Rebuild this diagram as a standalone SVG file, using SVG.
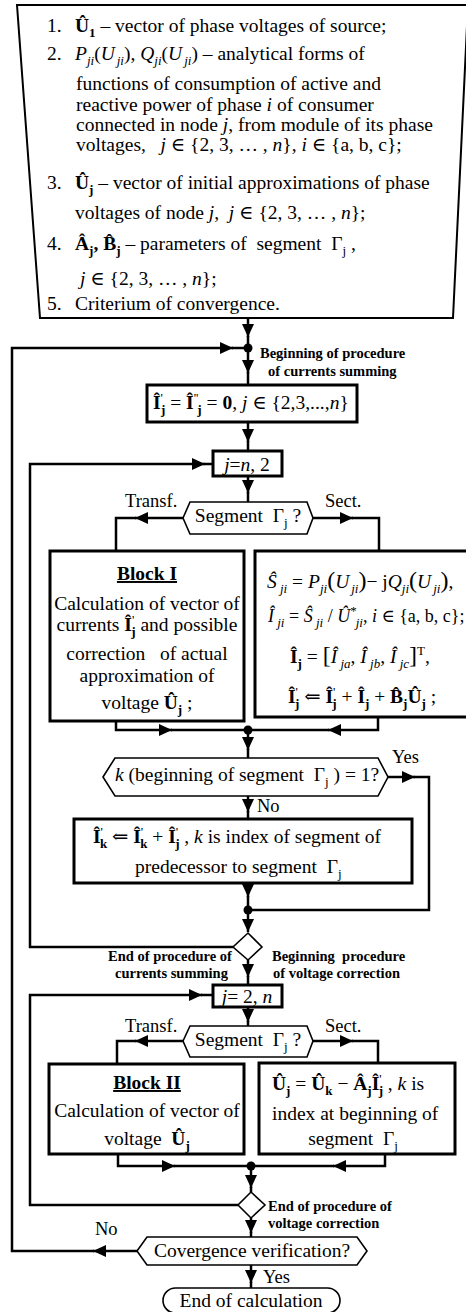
<svg xmlns="http://www.w3.org/2000/svg" width="466" height="1312" viewBox="0 0 466 1312">
<style>
text{font-family:"Liberation Serif","Times New Roman","DejaVu Serif",serif;font-size:19.5px;fill:#000}
.i{font-style:italic}
.b{font-weight:bold}
.sb{font-size:13px}
.sp{font-size:13px}
.lb{font-size:14.5px;font-weight:bold}
.lab{font-size:18.5px}
.m{text-anchor:middle}
.big{font-size:24px}
.sm{font-size:18px}
.ln{fill:none;stroke:#000;stroke-width:2.5}
.box{fill:#fff;stroke:#000;stroke-width:3}
.thin{fill:#fff;stroke:#000;stroke-width:1.6}
.dot{fill:#000}
</style>
<defs>
<marker id="ah" markerUnits="userSpaceOnUse" markerWidth="14" markerHeight="12" refX="13" refY="6" orient="auto"><path d="M0,0 L13,6 L0,12 z" fill="#000"/></marker>
</defs>
<rect width="466" height="1312" fill="#fff"/>

<g id="connectors" class="ln">
<path d="M248,318 V337" marker-end="url(#ah)"/><path d="M248,336 V348"/>
<path d="M137,1251 H93" marker-end="url(#ah)"/><path d="M94,1251 H12 V348 H233" marker-end="url(#ah)"/><path d="M232,348 H248"/>
<path d="M248,348 V373" marker-end="url(#ah)"/><path d="M248,372 V385"/>
<path d="M248,422 V442" marker-end="url(#ah)"/><path d="M248,441 V451"/>
<path d="M233,947 H30 V464 H205" marker-end="url(#ah)"/><path d="M204,464 H213"/>
<path d="M248,476 V493" marker-end="url(#ah)"/><path d="M248,492 V502"/>
<path d="M183,518 H135" marker-end="url(#ah)"/><path d="M136,518 H116 V551"/>
<path d="M313,518 H353" marker-end="url(#ah)"/><path d="M352,518 H379 V551"/>
<path d="M116,721 V730 H172" marker-end="url(#ah)"/><path d="M171,730 H248"/>
<path d="M378,717 V730 H328" marker-end="url(#ah)"/><path d="M329,730 H248"/>
<path d="M248,730 V750" marker-end="url(#ah)"/><path d="M248,749 V758"/>
<path d="M388,777 H415" marker-end="url(#ah)"/><path d="M414,777 H429 V910 H248"/>
<path d="M248,796 V812" marker-end="url(#ah)"/><path d="M248,811 V819"/>
<path d="M248,883 V897" marker-end="url(#ah)"/><path d="M248,896 V910"/>
<path d="M248,910 V932" marker-end="url(#ah)"/>
<path d="M248,960 V977" marker-end="url(#ah)"/><path d="M248,976 V985"/>
<path d="M238,1205 H30 V995 H202" marker-end="url(#ah)"/><path d="M201,995 H213"/>
<path d="M248,1007 V1022" marker-end="url(#ah)"/><path d="M248,1021 V1026"/>
<path d="M183,1041 H135" marker-end="url(#ah)"/><path d="M136,1041 H117 V1064"/>
<path d="M313,1041 H353" marker-end="url(#ah)"/><path d="M352,1041 H378 V1063"/>
<path d="M118,1154 V1166 H175" marker-end="url(#ah)"/><path d="M174,1166 H251"/>
<path d="M385,1154 V1166 H333" marker-end="url(#ah)"/><path d="M334,1166 H251"/>
<path d="M251,1166 V1188" marker-end="url(#ah)"/><path d="M251,1187 V1192"/>
<path d="M251,1218 V1233" marker-end="url(#ah)"/><path d="M251,1232 V1237"/>
<path d="M251,1265 V1283" marker-end="url(#ah)"/><path d="M251,1282 V1288"/>
</g>

<g id="input">
<polygon points="17,5 468,5 453,318 40,318" fill="#fff" stroke="#000" stroke-width="2"/>
<text x="47" y="32">1.</text>
<text x="75" y="32"><tspan class="b">Û</tspan><tspan class="b sb" dy="5">1</tspan><tspan dy="-5"> – vector of phase voltages of source;</tspan></text>
<text x="47" y="60">2.</text>
<text x="75" y="60"><tspan class="i">P</tspan><tspan class="i sb" dy="5">ji</tspan><tspan dy="-5">(</tspan><tspan class="i">U</tspan><tspan class="i sb" dx="2" dy="5">ji</tspan><tspan dy="-5">), </tspan><tspan class="i">Q</tspan><tspan class="i sb" dy="5">ji</tspan><tspan dy="-5">(</tspan><tspan class="i">U</tspan><tspan class="i sb" dx="2" dy="5">ji</tspan><tspan dy="-5">) – analytical forms of</tspan></text>
<text x="76" y="90">functions of consumption of active and</text>
<text x="76" y="111">reactive power of phase <tspan class="i">i</tspan> of consumer</text>
<text x="76" y="131">connected in node <tspan class="i">j</tspan>, from module of its phase</text>
<text x="76" y="151">voltages,&#160;&#160; <tspan class="i">j</tspan> ∈ {2, 3, … , <tspan class="i">n</tspan>}, <tspan class="i">i</tspan> ∈ {a, b, c};</text>
<text x="47" y="189">3.</text>
<text x="75" y="189"><tspan class="b">Û</tspan><tspan class="b sb" dy="5">j</tspan><tspan dy="-5"> – vector of initial approximations of phase</tspan></text>
<text x="75" y="219">voltages of node <tspan class="i">j</tspan>,&#160; <tspan class="i">j</tspan> ∈ {2, 3, … , <tspan class="i">n</tspan>};</text>
<text x="47" y="250">4.</text>
<text x="75" y="250"><tspan class="b">Â</tspan><tspan class="b sb" dy="5">j</tspan><tspan class="b" dy="-5">, B̂</tspan><tspan class="b sb" dy="5">j</tspan><tspan dy="-5"> – parameters of&#160; segment&#160; Γ</tspan><tspan class="sb" dy="5">j</tspan><tspan dy="-5"> ,</tspan></text>
<text x="80" y="285"><tspan class="i">j</tspan> ∈ {2, 3, … , <tspan class="i">n</tspan>};</text>
<text x="47" y="310">5.</text>
<text x="75" y="310">Criterium of convergence.</text>
</g>

<g id="dot1"><circle class="dot" cx="248" cy="348" r="4.5"/>
<text class="lb" x="260" y="358">Beginning of procedure</text>
<text class="lb" x="268" y="376">of currents summing</text></g>

<g id="init">
<rect class="box" x="147" y="385" width="210" height="37" stroke-width="2.5"/>
<text x="153" y="409"><tspan class="b">Î</tspan><tspan class="sp" dy="-7">'</tspan><tspan class="b sb" dx="-2" dy="12">j</tspan><tspan dy="-5"> = </tspan><tspan class="b">Î</tspan><tspan class="sp" dy="-7">''</tspan><tspan class="b sb" dx="-1" dy="12">j</tspan><tspan dy="-5"> = </tspan><tspan class="b">0</tspan><tspan>, </tspan><tspan class="i">j</tspan><tspan> ∈ {2,3,...,</tspan><tspan class="i">n</tspan><tspan>}</tspan></text>
</g>

<g id="loop1">
<rect class="box" x="213" y="451" width="69" height="25"/>
<text class="m" x="247" y="471"><tspan class="i">j</tspan>=<tspan class="i">n</tspan>, 2</text>
</g>

<g id="seg1">
<polygon class="thin" points="183,518 190,502 307,502 313,518 307,534 190,534"/>
<text class="m" x="248" y="522">Segment&#160; Γ<tspan class="sb" dy="5">j</tspan><tspan dy="-5"> ?</tspan></text>
<text class="lab" x="125" y="507">Transf.</text>
<text class="lab" x="325" y="507">Sect.</text>
</g>

<g id="block1">
<rect class="box" x="50" y="551" width="194" height="170"/>
<text class="m b" x="147" y="580" text-decoration="underline">Block I</text>
<text class="m" x="147" y="610">Calculation of vector of</text>
<text class="m" x="147" y="631">currents <tspan class="b">Î</tspan><tspan class="sp" dy="-7">'</tspan><tspan class="b sb" dx="-3" dy="12">j</tspan><tspan dy="-5"> and possible</tspan></text>
<text class="m" x="147" y="660">correction&#160;&#160; of actual</text>
<text class="m" x="147" y="682">approximation of</text>
<text class="m" x="147" y="709">voltage <tspan class="b">Û</tspan><tspan class="b sb" dy="5">j</tspan><tspan dy="-5"> ;</tspan></text>
</g>

<g id="sect1">
<rect class="box" x="255" y="551" width="220" height="166"/>
<text x="267" y="588"><tspan class="i">Ŝ</tspan><tspan class="i sb" dy="5"> ji</tspan><tspan dy="-5"> = </tspan><tspan class="i">P</tspan><tspan class="i sb" dy="5">ji</tspan><tspan class="big" dy="-5">(</tspan><tspan class="i">U</tspan><tspan class="i sb" dx="2" dy="5">ji</tspan><tspan class="big" dy="-5">)</tspan><tspan>− j</tspan><tspan class="i">Q</tspan><tspan class="i sb" dy="5">ji</tspan><tspan class="big" dy="-5">(</tspan><tspan class="i">U</tspan><tspan class="i sb" dx="2" dy="5">ji</tspan><tspan class="big" dy="-5">)</tspan><tspan>,</tspan></text>
<text class="sm" x="268" y="622"><tspan class="i">Î</tspan><tspan class="i sb" dy="5"> ji</tspan><tspan dy="-5"> = </tspan><tspan class="i">Ŝ</tspan><tspan class="i sb" dy="5"> ji</tspan><tspan dy="-5"> / </tspan><tspan class="i">Û</tspan><tspan class="sp" dy="-7">*</tspan><tspan class="i sb" dx="-1" dy="12">ji</tspan><tspan dy="-5">, </tspan><tspan class="i">i</tspan><tspan> ∈ {a, b, c};</tspan></text>
<text x="290" y="663"><tspan class="b">Î</tspan><tspan class="b sb" dy="5">j</tspan><tspan dy="-5"> = </tspan><tspan class="big">[</tspan><tspan class="i">Î</tspan><tspan class="i sb" dy="5"> ja</tspan><tspan dy="-5">, </tspan><tspan class="i">Î</tspan><tspan class="i sb" dy="5"> jb</tspan><tspan dy="-5">, </tspan><tspan class="i">Î</tspan><tspan class="i sb" dy="5"> jc</tspan><tspan class="big" dy="-5">]</tspan><tspan class="sb" dy="-8">T</tspan><tspan dy="8">,</tspan></text>
<text x="288" y="703"><tspan class="b">Î</tspan><tspan class="sp" dy="-7">'</tspan><tspan class="b sb" dx="-3" dy="12">j</tspan><tspan dy="-5"> ⇐ </tspan><tspan class="b">Î</tspan><tspan class="sp" dy="-7">'</tspan><tspan class="b sb" dx="-3" dy="12">j</tspan><tspan dy="-5"> + </tspan><tspan class="b">Î</tspan><tspan class="b sb" dy="5">j</tspan><tspan dy="-5"> + </tspan><tspan class="b">B̂</tspan><tspan class="b sb" dy="5">j</tspan><tspan class="b" dy="-5">Û</tspan><tspan class="b sb" dy="5">j</tspan><tspan dy="-5"> ;</tspan></text>
</g>

<g id="dot2"><circle class="dot" cx="248" cy="730" r="4.5"/></g>

<g id="check-k">
<polygon class="thin" points="103,777 115,758 378,758 388,777 378,796 115,796"/>
<text x="115" y="781"><tspan class="i">k</tspan> (beginning of segment&#160; Γ<tspan class="sb" dy="5">j</tspan><tspan dy="-5"> ) = 1?</tspan></text>
<text class="lab" x="392" y="763">Yes</text>
<text class="lab" x="257" y="812">No</text>
</g>

<g id="sum-k">
<rect class="box" x="74" y="819" width="338" height="64"/>
<text x="93" y="843"><tspan class="b">Î</tspan><tspan class="sp" dy="-7">'</tspan><tspan class="b sb" dx="-3" dy="12">k</tspan><tspan dy="-5"> ⇐ </tspan><tspan class="b">Î</tspan><tspan class="sp" dy="-7">'</tspan><tspan class="b sb" dx="-3" dy="12">k</tspan><tspan dy="-5"> + </tspan><tspan class="b">Î</tspan><tspan class="sp" dy="-7">'</tspan><tspan class="b sb" dx="-3" dy="12">j</tspan><tspan dy="-5"> , </tspan><tspan class="i">k</tspan><tspan> is index of segment of</tspan></text>
<text x="135" y="873">predecessor to segment&#160; Γ<tspan class="sb" dy="5">j</tspan></text>
</g>

<g id="dot3"><circle class="dot" cx="248" cy="910" r="4.5"/></g>

<g id="end-sum">
<polygon class="thin" points="248,933 262,947 248,960 233,947"/>
<text class="lb" x="108" y="961">End of procedure of</text>
<text class="lb" x="115" y="978">currents summing</text>
<text class="lb" x="272" y="961">Beginning&#160; procedure</text>
<text class="lb" x="273" y="978">of voltage correction</text>
</g>

<g id="loop2">
<rect class="box" x="213" y="985" width="69" height="22"/>
<text class="m" x="247" y="1003"><tspan class="i">j</tspan>= 2, <tspan class="i">n</tspan></text>
</g>

<g id="seg2">
<polygon class="thin" points="183,1041 190,1026 307,1026 313,1041 307,1057 190,1057"/>
<text class="m" x="248" y="1046">Segment&#160; Γ<tspan class="sb" dy="5">j</tspan><tspan dy="-5"> ?</tspan></text>
<text class="lab" x="125" y="1032">Transf.</text>
<text class="lab" x="325" y="1032">Sect.</text>
</g>

<g id="block2">
<rect class="box" x="49" y="1064" width="195" height="90"/>
<text class="m b" x="147" y="1089" text-decoration="underline">Block II</text>
<text class="m" x="147" y="1117">Calculation of vector of</text>
<text class="m" x="147" y="1145">voltage&#160; <tspan class="b">Û</tspan><tspan class="b sb" dy="5">j</tspan></text>
</g>

<g id="sect2">
<rect class="box" x="259" y="1063" width="196" height="91"/>
<text x="272" y="1090"><tspan class="b">Û</tspan><tspan class="b sb" dy="5">j</tspan><tspan dy="-5"> = </tspan><tspan class="b">Û</tspan><tspan class="b sb" dy="5">k</tspan><tspan dy="-5"> − </tspan><tspan class="b">Â</tspan><tspan class="b sb" dy="5">j</tspan><tspan class="b" dy="-5">Î</tspan><tspan class="sp" dy="-7">'</tspan><tspan class="b sb" dx="-3" dy="12">j</tspan><tspan dy="-5"> , </tspan><tspan class="i">k</tspan><tspan> is</tspan></text>
<text x="272" y="1120">index at beginning of</text>
<text class="m" x="353" y="1145">segment&#160; Γ<tspan class="sb" dy="5">j</tspan></text>
</g>

<g id="dot4"><circle class="dot" cx="251" cy="1166" r="4.5"/></g>

<g id="end-volt">
<polygon class="thin" points="251,1192 265,1205 251,1218 238,1205"/>
<text class="lb" x="268" y="1211">End of procedure of</text>
<text class="lb" x="268" y="1228">voltage correction</text>
</g>

<g id="converge">
<polygon class="thin" points="137,1251 147,1237 357,1237 367,1251 357,1265 147,1265"/>
<text class="m" x="252" y="1257">Covergence verification?</text>
<text class="lab" x="95" y="1235">No</text>
<text class="lab" x="263" y="1283">Yes</text>
</g>

<g id="end">
<rect class="thin" x="163" y="1288" width="177" height="25" rx="12.5"/>
<text class="m" x="251" y="1307">End of calculation</text>
</g>
</svg>
